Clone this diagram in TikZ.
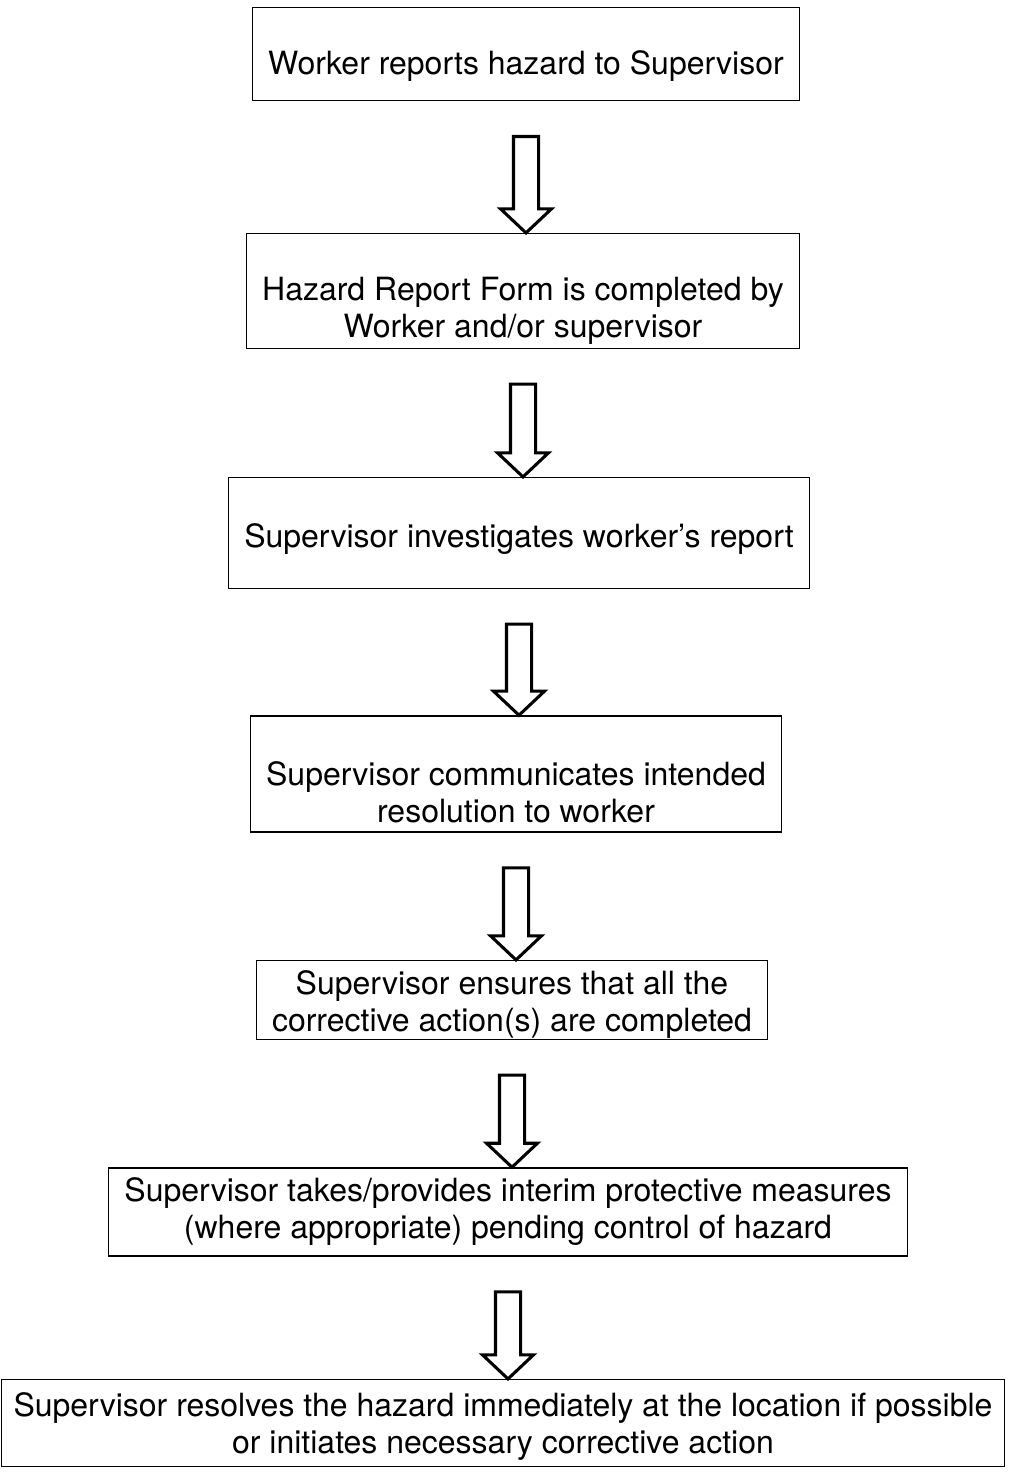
\documentclass[tikz,border=0pt]{standalone}
\usepackage{fontspec}
\setmainfont{TeX Gyre Heros}
\usetikzlibrary{calc}

\begin{document}
\begin{tikzpicture}[x=0.75pt, y=-0.75pt]
        \tikzstyle{every node}=[align=center, font=\fontsize{24pt}{27.75pt}\selectfont]
        \tikzstyle{stepbox}=[draw, line width=1.2pt, inner sep=0pt]
        \tikzstyle{hollow}=[draw, line width=2.3pt, line join=miter]
        \useasboundingbox (0,0) rectangle (1009,1472);

        % the rules push the text a little below the middle of its box
        \node at (526, 54) [stepbox, minimum width=410pt, minimum height=70pt] (report) {\rule{0pt}{36.7pt}Worker reports hazard to Supervisor};
        \node at (523, 291) [stepbox, minimum width=415pt, minimum height=86pt] (form) {\rule{0pt}{47.2pt}Hazard Report Form is completed by\\Worker and/or supervisor};
        \node at (519, 533) [stepbox, minimum width=436pt, minimum height=83pt] (investigate) {\rule{0pt}{27.7pt}Supervisor investigates worker's report};
        \node at (516, 774) [stepbox, minimum width=398pt, minimum height=87pt] (communicate) {\rule{0pt}{45.7pt}Supervisor communicates intended\\resolution to worker};
        \node at (512, 1000) [stepbox, minimum width=383pt, minimum height=59pt] (ensure) {\rule{0pt}{24.7pt}Supervisor ensures that all the\\corrective action(s) are completed};
        \node at (508, 1212) [stepbox, minimum width=599pt, minimum height=66pt] (interim) {Supervisor takes/provides interim protective measures\\(where appropriate) pending control of hazard};
        \node at (503, 1423) [stepbox, minimum width=752pt, minimum height=65pt] (resolve) {\rule{0pt}{23.2pt}Supervisor resolves the hazard immediately at the location if possible\\or initiates necessary corrective action};

        % hollow block arrows, from the box above down to the box below
        \foreach \a/\b in {report/form, form/investigate, investigate/communicate, communicate/ensure, ensure/interim, interim/resolve}
            \draw[hollow] let \p1 = (\a.south), \p2 = (\b.north) in
                (\x1-9.4pt, \y1-26.25pt) -- (\x1+9.4pt, \y1-26.25pt) -- (\x1+9.4pt, \y2+18pt)
                -- (\x1+19.1pt, \y2+18pt) -- (\x1, \y2) -- (\x1-19.1pt, \y2+18pt)
                -- (\x1-9.4pt, \y2+18pt) -- cycle;
\end{tikzpicture}
\end{document}
